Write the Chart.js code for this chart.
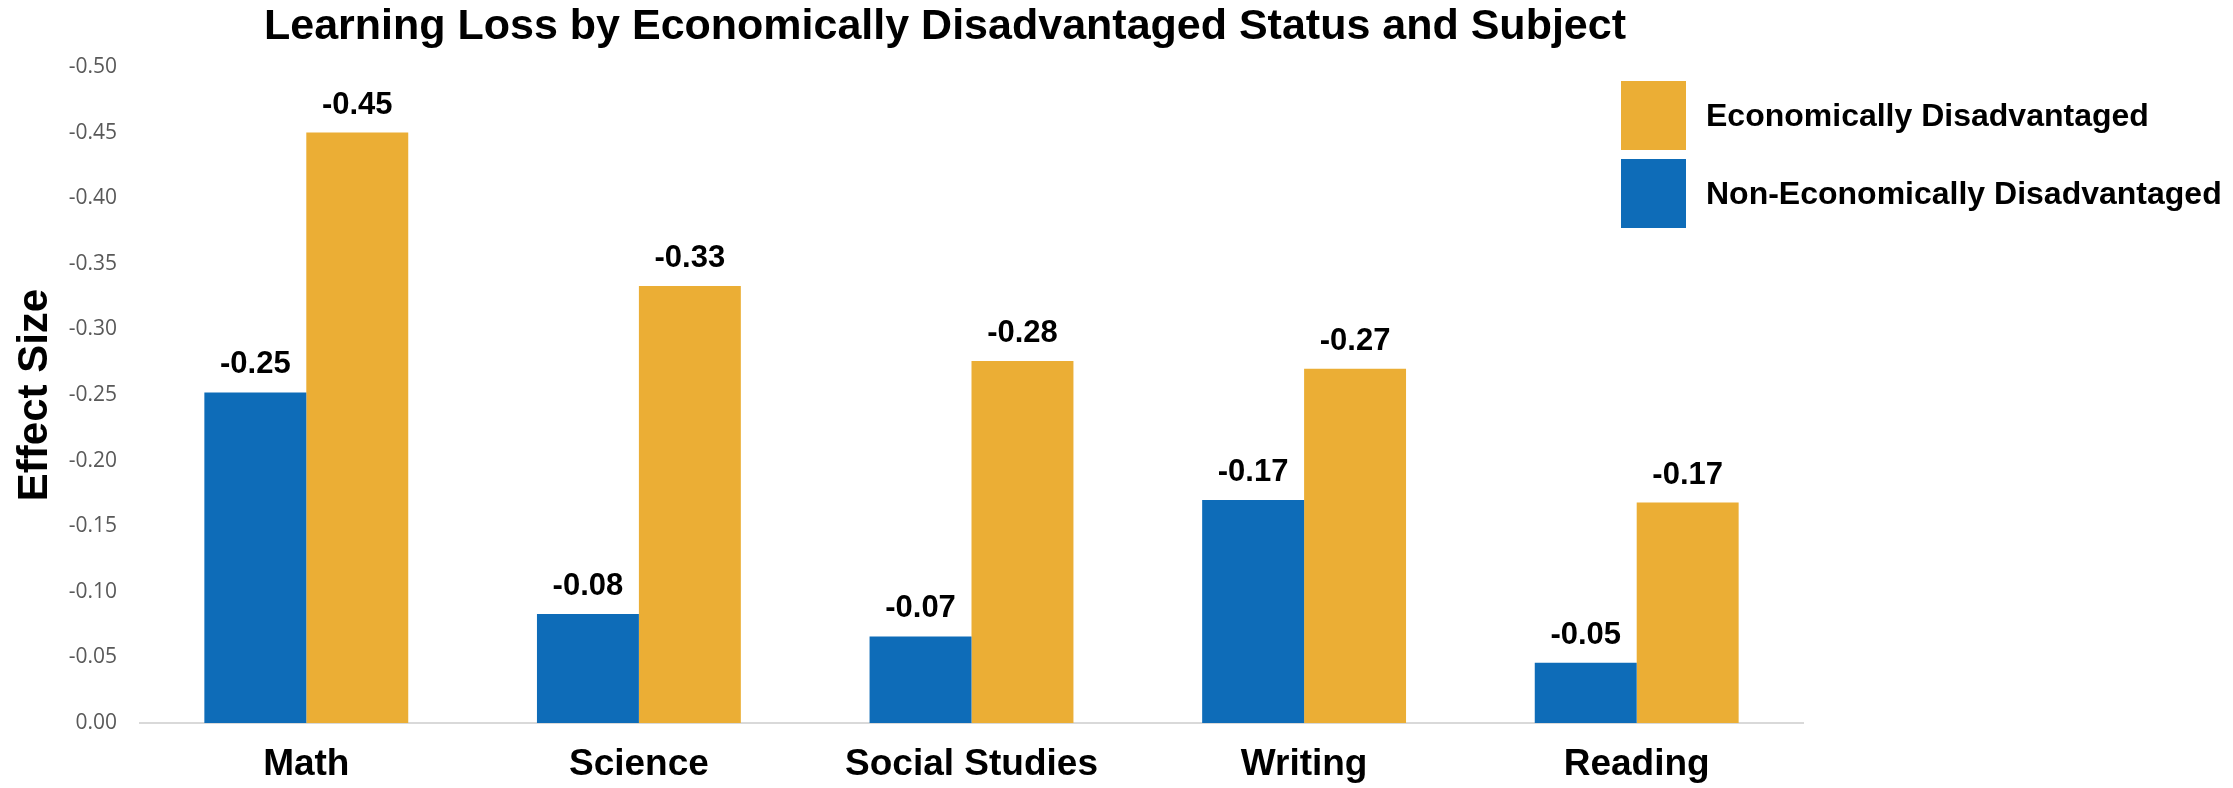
<!DOCTYPE html>
<html>
<head>
<meta charset="utf-8">
<title>Learning Loss by Economically Disadvantaged Status and Subject</title>
<script src="https://cdn.jsdelivr.net/npm/chart.js@4.4.1/dist/chart.umd.min.js"></script>
<style>
    html, body { margin: 0; padding: 0; background: #fff; overflow: hidden; }
    #lossChart { display: block; }
</style>
</head>
<body>
<canvas id="lossChart" width="2233" height="788"></canvas>
<script>
const subjects = ['Math', 'Science', 'Social Studies', 'Writing', 'Reading'];
const nonDisadvantaged = [-0.252, -0.083, -0.066, -0.170, -0.046];
const disadvantaged = [-0.450, -0.333, -0.276, -0.270, -0.168];
const yTicks = [-0.50, -0.45, -0.40, -0.35, -0.30, -0.25, -0.20, -0.15, -0.10, -0.05, 0.00];

const BLUE = '#0E6CB8';
const GOLD = '#EBAE35';
const BOLD = '"Liberation Sans", Arial, sans-serif';

// value labels above each bar
const barLabels = {
    id: 'barLabels',
    afterDatasetsDraw(chart) {
        const ctx = chart.ctx;
        ctx.save();
        ctx.font = 'bold 31px ' + BOLD;
        ctx.fillStyle = '#000';
        ctx.textAlign = 'center';
        ctx.textBaseline = 'alphabetic';
        chart.data.datasets.forEach((ds, i) => {
            chart.getDatasetMeta(i).data.forEach((bar, j) => {
                ctx.fillText(ds.data[j].toFixed(2), bar.x, bar.y - 19);
            });
        });
        ctx.restore();
    }
};

// title sits a bit left of the plot centre
const chartTitle = {
    id: 'chartTitle',
    afterDraw(chart, args, opts) {
        const ctx = chart.ctx;
        ctx.save();
        ctx.font = 'bold 43px ' + BOLD;
        ctx.fillStyle = '#000';
        ctx.textAlign = 'center';
        ctx.textBaseline = 'alphabetic';
        ctx.fillText(opts.text, opts.x, opts.y);
        ctx.restore();
    }
};

// legend floats in the top right corner, gold entry first
const sideLegend = {
    id: 'sideLegend',
    afterDraw(chart, args, opts) {
        const ctx = chart.ctx;
        const items = chart.data.datasets.slice().reverse();
        ctx.save();
        ctx.font = 'bold 32px ' + BOLD;
        ctx.textAlign = 'left';
        ctx.textBaseline = 'middle';
        items.forEach((ds, i) => {
            const top = opts.y + i * opts.step;
            ctx.fillStyle = ds.backgroundColor;
            ctx.fillRect(opts.x, top, opts.box, opts.boxH);
            ctx.fillStyle = '#000';
            ctx.fillText(ds.label, opts.x + 85, top + opts.boxH / 2 + 2);
        });
        ctx.restore();
    }
};

new Chart(document.getElementById('lossChart'), {
    type: 'bar',
    data: {
        labels: subjects,
        datasets: [
            { label: 'Non-Economically Disadvantaged', data: nonDisadvantaged, backgroundColor: BLUE },
            { label: 'Economically Disadvantaged', data: disadvantaged, backgroundColor: GOLD }
        ]
    },
    options: {
        responsive: false,
        animation: false,
        devicePixelRatio: 1,
        layout: { padding: { top: 67, right: 430, bottom: 0, left: 0 } },
        datasets: { bar: { barPercentage: 1, categoryPercentage: 0.613 } },
        plugins: {
            legend: { display: false },
            tooltip: { enabled: false },
            chartTitle: { text: 'Learning Loss by Economically Disadvantaged Status and Subject', x: 945, y: 39 },
            sideLegend: { x: 1621, y: 81, step: 78, box: 65, boxH: 69 }
        },
        scales: {
            x: {
                grid: { display: false, drawTicks: false },
                border: { display: true, color: '#D9D9D9', width: 2 },
                ticks: { color: '#000', padding: 20, font: { family: BOLD, size: 37, weight: 'bold' } },
                afterFit(scale) { scale.height = 65; }
            },
            y: {
                reverse: true,
                min: yTicks[0],
                max: yTicks[yTicks.length - 1],
                afterBuildTicks(scale) { scale.ticks = yTicks.map(v => ({ value: v })); },
                grid: { display: false, drawTicks: false },
                border: { display: false },
                ticks: {
                    color: '#595959',
                    padding: 23,
                    font: { family: '"Open Sans", sans-serif', size: 21 },
                    callback: v => Number(v).toFixed(2)
                },
                title: {
                    display: true,
                    text: 'Effect Size',
                    color: '#000',
                    padding: { top: 10, bottom: 0 },
                    font: { family: BOLD, size: 42, weight: 'bold' }
                },
                afterFit(scale) { scale.width = 140; }
            }
        }
    },
    plugins: [barLabels, chartTitle, sideLegend]
});
</script>
</body>
</html>
